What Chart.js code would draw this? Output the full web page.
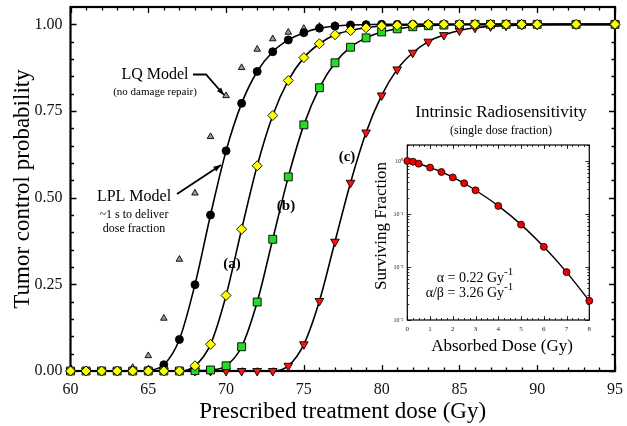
<!DOCTYPE html>
<html>
<head>
<meta charset="utf-8">
<script src="https://cdn.jsdelivr.net/npm/chart.js@4.4.1/dist/chart.umd.min.js"></script>
<style>
  html, body { margin: 0; padding: 0; background: #fff; }
  #wrap { position: relative; width: 627px; height: 426px; }
  #main { position: absolute; left: 0; top: 0; }
  #inset { position: absolute; left: 370px; top: 130px; }
</style>
</head>
<body>
<div id="wrap">
  <canvas id="main" width="627" height="426"></canvas>
  <canvas id="inset" width="235" height="210"></canvas>
</div>
<script>
// main panel: tumour control probability vs prescribed dose
const doses = [60, 61, 62, 63, 64, 65, 66, 67, 68, 69, 70, 71, 72, 73, 74, 75, 76, 77, 78, 79,
               80, 81, 82, 83, 84, 85, 86, 87, 88, 89, 90, 92.5, 95];

const lqModel = [0, 0, 0, 0, 0.01, 0.044, 0.152, 0.322, 0.513, 0.676, 0.794, 0.875, 0.928, 0.958, 0.977, 0.988, 0.994, 0.997, 0.999, 1,
                 1, 1, 1, 1, 1, 1, 1, 1, 1, 1, 1, 1, 1];
const lplModel = [0, 0, 0, 0, 0, 0.002, 0.018, 0.091, 0.249, 0.45, 0.635, 0.772, 0.864, 0.921, 0.955, 0.976, 0.989, 0.995, 0.998, 0.999,
                  1, 1, 1, 1, 1, 1, 1, 1, 1, 1, 1, 1, 1];
const curveA = [0, 0, 0, 0, 0, 0, 0, 0, 0.015, 0.077, 0.218, 0.409, 0.592, 0.737, 0.838, 0.904, 0.944, 0.970, 0.982, 0.990,
                0.995, 0.997, 0.999, 1, 1, 1, 1, 1, 1, 1, 1, 1, 1];
const curveB = [0, 0, 0, 0, 0, 0, 0, 0, 0.001, 0.003, 0.015, 0.07, 0.199, 0.38, 0.56, 0.71, 0.817, 0.889, 0.934, 0.961,
                0.978, 0.987, 0.993, 0.996, 0.998, 0.999, 1, 1, 1, 1, 1, 1, 1];
const curveC = [0, 0, 0, 0, 0, 0, 0, 0, 0, 0, 0, 0, 0, 0, 0.015, 0.077, 0.202, 0.373, 0.543, 0.688,
                0.795, 0.870, 0.918, 0.950, 0.969, 0.982, 0.990, 0.994, 0.996, 0.998, 0.999, 1, 1];

const xTicks = [60, 65, 70, 75, 80, 85, 90, 95];
const yTicks = [0, 0.25, 0.5, 0.75, 1.0];

// inset: surviving fraction after a single dose
const insetDose = [0, 0.25, 0.5, 1, 1.5, 2, 2.5, 3, 4, 5, 6, 7, 8];
const survFrac = [1.0, 0.97, 0.89, 0.75, 0.62, 0.49, 0.38, 0.28, 0.142, 0.063, 0.024, 0.008, 0.0023];
const insetXTicks = [0, 1, 2, 3, 4, 5, 6, 7, 8];
const insetYTicks = [0.001, 0.01, 0.1, 1];

const SERIF = "'Liberation Serif', 'Times New Roman', serif";
const pts = vals => doses.map((d, i) => ({ x: d, y: vals[i] }));

// inward ticks on all four sides plus the frame
const frameTicks = {
  id: 'frameTicks',
  beforeDatasetsDraw(chart, args, o) {
    const { ctx, chartArea: a } = chart;
    const sx = chart.scales.x, sy = chart.scales.y;
    ctx.save();
    ctx.strokeStyle = '#000';
    ctx.lineWidth = o.tickWidth;
    ctx.beginPath();
    const xt = (vals, len) => vals.forEach(v => {
      const p = Math.round(sx.getPixelForValue(v)) + 0.5;
      ctx.moveTo(p, a.bottom); ctx.lineTo(p, a.bottom - len);
      ctx.moveTo(p, a.top); ctx.lineTo(p, a.top + len);
    });
    const yt = (vals, len) => vals.forEach(v => {
      const p = Math.round(sy.getPixelForValue(v)) + 0.5;
      ctx.moveTo(a.left, p); ctx.lineTo(a.left + len, p);
      ctx.moveTo(a.right, p); ctx.lineTo(a.right - len, p);
    });
    xt(o.xMinor, o.minorLen); xt(o.xMajor, o.majorLen);
    yt(o.yMinor, o.minorLen); yt(o.yMajor, o.majorLen);
    ctx.stroke();
    ctx.lineWidth = o.frameWidth;
    ctx.strokeRect(a.left, a.top, a.right - a.left, a.bottom - a.top);
    ctx.restore();
  }
};

function label(ctx, s, x, y, size, extra) {
  ctx.font = (extra || '') + ' ' + size + 'px ' + SERIF;
  ctx.fillText(s, x, y);
}

function arrow(ctx, path) {
  ctx.beginPath();
  ctx.moveTo(path[0][0], path[0][1]);
  for (let i = 1; i < path.length; i++) ctx.lineTo(path[i][0], path[i][1]);
  ctx.stroke();
  const [x1, y1] = path[path.length - 2], [x2, y2] = path[path.length - 1];
  const ang = Math.atan2(y2 - y1, x2 - x1);
  ctx.beginPath();
  ctx.moveTo(x2, y2);
  ctx.lineTo(x2 - 8 * Math.cos(ang - 0.35), y2 - 8 * Math.sin(ang - 0.35));
  ctx.lineTo(x2 - 8 * Math.cos(ang + 0.35), y2 - 8 * Math.sin(ang + 0.35));
  ctx.closePath();
  ctx.fill();
}

const notes = {
  id: 'notes',
  afterDraw(chart) {
    const ctx = chart.ctx;
    ctx.save();
    ctx.fillStyle = '#000';
    ctx.strokeStyle = '#000';
    ctx.textAlign = 'center';
    ctx.textBaseline = 'middle';
    label(ctx, 'LQ Model', 155, 75, 16);
    label(ctx, '(no damage repair)', 155, 92, 11);
    label(ctx, 'LPL Model', 134, 197, 16);
    label(ctx, '~1 s to deliver', 134, 215, 12);
    label(ctx, 'dose fraction', 134, 229, 12);
    label(ctx, '(a)', 232, 264, 15, 'bold');
    label(ctx, '(b)', 286, 206, 15, 'bold');
    label(ctx, '(c)', 347, 157, 15, 'bold');
    label(ctx, 'Intrinsic Radiosensitivity', 501, 113, 17);
    label(ctx, '(single dose fraction)', 501, 131, 12);
    label(ctx, 'Absorbed Dose (Gy)', 502, 347, 17);
    ctx.save();
    ctx.translate(382, 226);
    ctx.rotate(-Math.PI / 2);
    label(ctx, 'Surviving Fraction', 0, 0, 17);
    ctx.restore();
    ctx.textAlign = 'right';
    label(ctx, '\u03b1 = 0.22 Gy', 504, 278, 14);
    label(ctx, '\u03b1/\u03b2 = 3.26 Gy', 504, 293, 14);
    ctx.textAlign = 'left';
    label(ctx, '-1', 504, 272, 11);
    label(ctx, '-1', 504, 287, 11);

    ctx.lineWidth = 1.8;
    arrow(ctx, [[193, 74.5], [206, 74.5], [224, 95]]);
    arrow(ctx, [[177, 194], [221, 165]]);
    ctx.restore();
  }
};

const minorX = [], minorY = [];
for (let v = 60; v <= 95; v++) minorX.push(v);
for (let v = 0; v <= 1.0001; v += 0.05) minorY.push(v);

// keep the plot box where the layout padding puts it
const noOverflow = s => { s.paddingTop = 0; s.paddingBottom = 0; s.paddingLeft = 0; s.paddingRight = 0; };

new Chart(document.getElementById('main'), {
  type: 'line',
  data: {
    datasets: [
      { label: '(a)', data: pts(curveA), pointStyle: 'rectRot', pointRadius: 5, backgroundColor: '#ffff00' },
      { label: '(b)', data: pts(curveB), pointStyle: 'rect', pointRadius: 5.6, backgroundColor: '#22dd22' },
      { label: '(c)', data: pts(curveC), pointStyle: 'triangle', pointRotation: 180, pointRadius: 5, backgroundColor: '#ff1010' },
      { label: 'LPL Model', data: pts(lplModel), pointStyle: 'circle', pointRadius: 4, backgroundColor: '#000' },
      { label: 'LQ Model', data: pts(lqModel), pointStyle: 'triangle', pointRadius: 3.8, backgroundColor: '#9a9a9a', showLine: false }
    ].map(d => Object.assign({
      borderColor: '#000', borderWidth: 1.6, pointBorderColor: '#000', pointBorderWidth: 0.9,
      cubicInterpolationMode: 'monotone', clip: false
    }, d))
  },
  options: {
    responsive: false,
    animation: false,
    layout: { padding: { left: 0, right: 12, top: 7, bottom: 0 } },
    plugins: {
      legend: { display: false },
      tooltip: { enabled: false },
      frameTicks: { xMajor: xTicks, yMajor: yTicks, xMinor: minorX, yMinor: minorY,
                    majorLen: 6, minorLen: 3.5, tickWidth: 1.3, frameWidth: 2.2 }
    },
    scales: {
      x: {
        type: 'linear', min: 60, max: 95,
        afterFit: s => { s.height = 55; noOverflow(s); },
        afterBuildTicks: s => { s.ticks = xTicks.map(v => ({ value: v })); },
        grid: { display: false, drawTicks: false }, border: { display: false },
        ticks: { font: { family: SERIF, size: 16 }, color: '#111', padding: 9, maxRotation: 0 },
        title: { display: true, text: 'Prescribed treatment dose (Gy)', font: { family: SERIF, size: 23 }, color: '#000', padding: 0 }
      },
      y: {
        type: 'linear', min: 0, max: 1.05,
        afterFit: s => { s.width = 70.5; noOverflow(s); },
        afterBuildTicks: s => { s.ticks = yTicks.map(v => ({ value: v })); },
        grid: { display: false, drawTicks: false }, border: { display: false },
        ticks: { font: { family: SERIF, size: 16 }, color: '#111', padding: 8, callback: v => v.toFixed(2) },
        title: { display: true, text: 'Tumor control probability', font: { family: SERIF, size: 23 }, color: '#000', padding: { top: 9, bottom: 0 } }
      }
    }
  },
  plugins: [frameTicks, notes]
});

const supers = { '0': '\u2070', '1': '\u00b9', '2': '\u00b2', '3': '\u00b3' };
const insetMinorX = [], insetMinorY = [];
for (let v = 0; v <= 8.0001; v += 0.25) insetMinorX.push(v);
for (let e = -3; e <= 0; e++) for (let m = 2; m <= 9; m++) {
  const v = m * Math.pow(10, e);
  if (v <= 2) insetMinorY.push(v);
}

new Chart(document.getElementById('inset'), {
  type: 'line',
  data: {
    datasets: [{
      data: insetDose.map((d, i) => ({ x: d, y: survFrac[i] })),
      borderColor: '#000', borderWidth: 1.4,
      pointStyle: 'circle', pointRadius: 3.5, backgroundColor: '#ee0000',
      pointBorderColor: '#000', pointBorderWidth: 0.8,
      cubicInterpolationMode: 'monotone', clip: false
    }]
  },
  options: {
    responsive: false,
    animation: false,
    layout: { padding: { left: 0, right: 15.7, top: 15, bottom: 0 } },
    plugins: {
      legend: { display: false },
      tooltip: { enabled: false },
      frameTicks: { xMajor: insetXTicks, yMajor: insetYTicks, xMinor: insetMinorX, yMinor: insetMinorY,
                    majorLen: 4, minorLen: 2, tickWidth: 0.8, frameWidth: 1.2 }
    },
    scales: {
      x: {
        type: 'linear', min: 0, max: 8,
        afterFit: s => { s.height = 20; noOverflow(s); },
        afterBuildTicks: s => { s.ticks = insetXTicks.map(v => ({ value: v })); },
        grid: { display: false, drawTicks: false }, border: { display: false },
        ticks: { font: { family: SERIF, size: 7 }, color: '#222', padding: 5, maxRotation: 0 }
      },
      y: {
        type: 'logarithmic', min: 0.001, max: 2,
        afterFit: s => { s.width = 37.3; noOverflow(s); },
        afterBuildTicks: s => { s.ticks = insetYTicks.map(v => ({ value: v })); },
        grid: { display: false, drawTicks: false }, border: { display: false },
        ticks: {
          font: { family: SERIF, size: 6 }, color: '#222', padding: 4,
          callback: v => {
            const e = Math.round(Math.log10(v));
            return '10' + (e < 0 ? '\u207b' : '') + supers[String(Math.abs(e))];
          }
        }
      }
    }
  },
  plugins: [frameTicks]
});
</script>
</body>
</html>
